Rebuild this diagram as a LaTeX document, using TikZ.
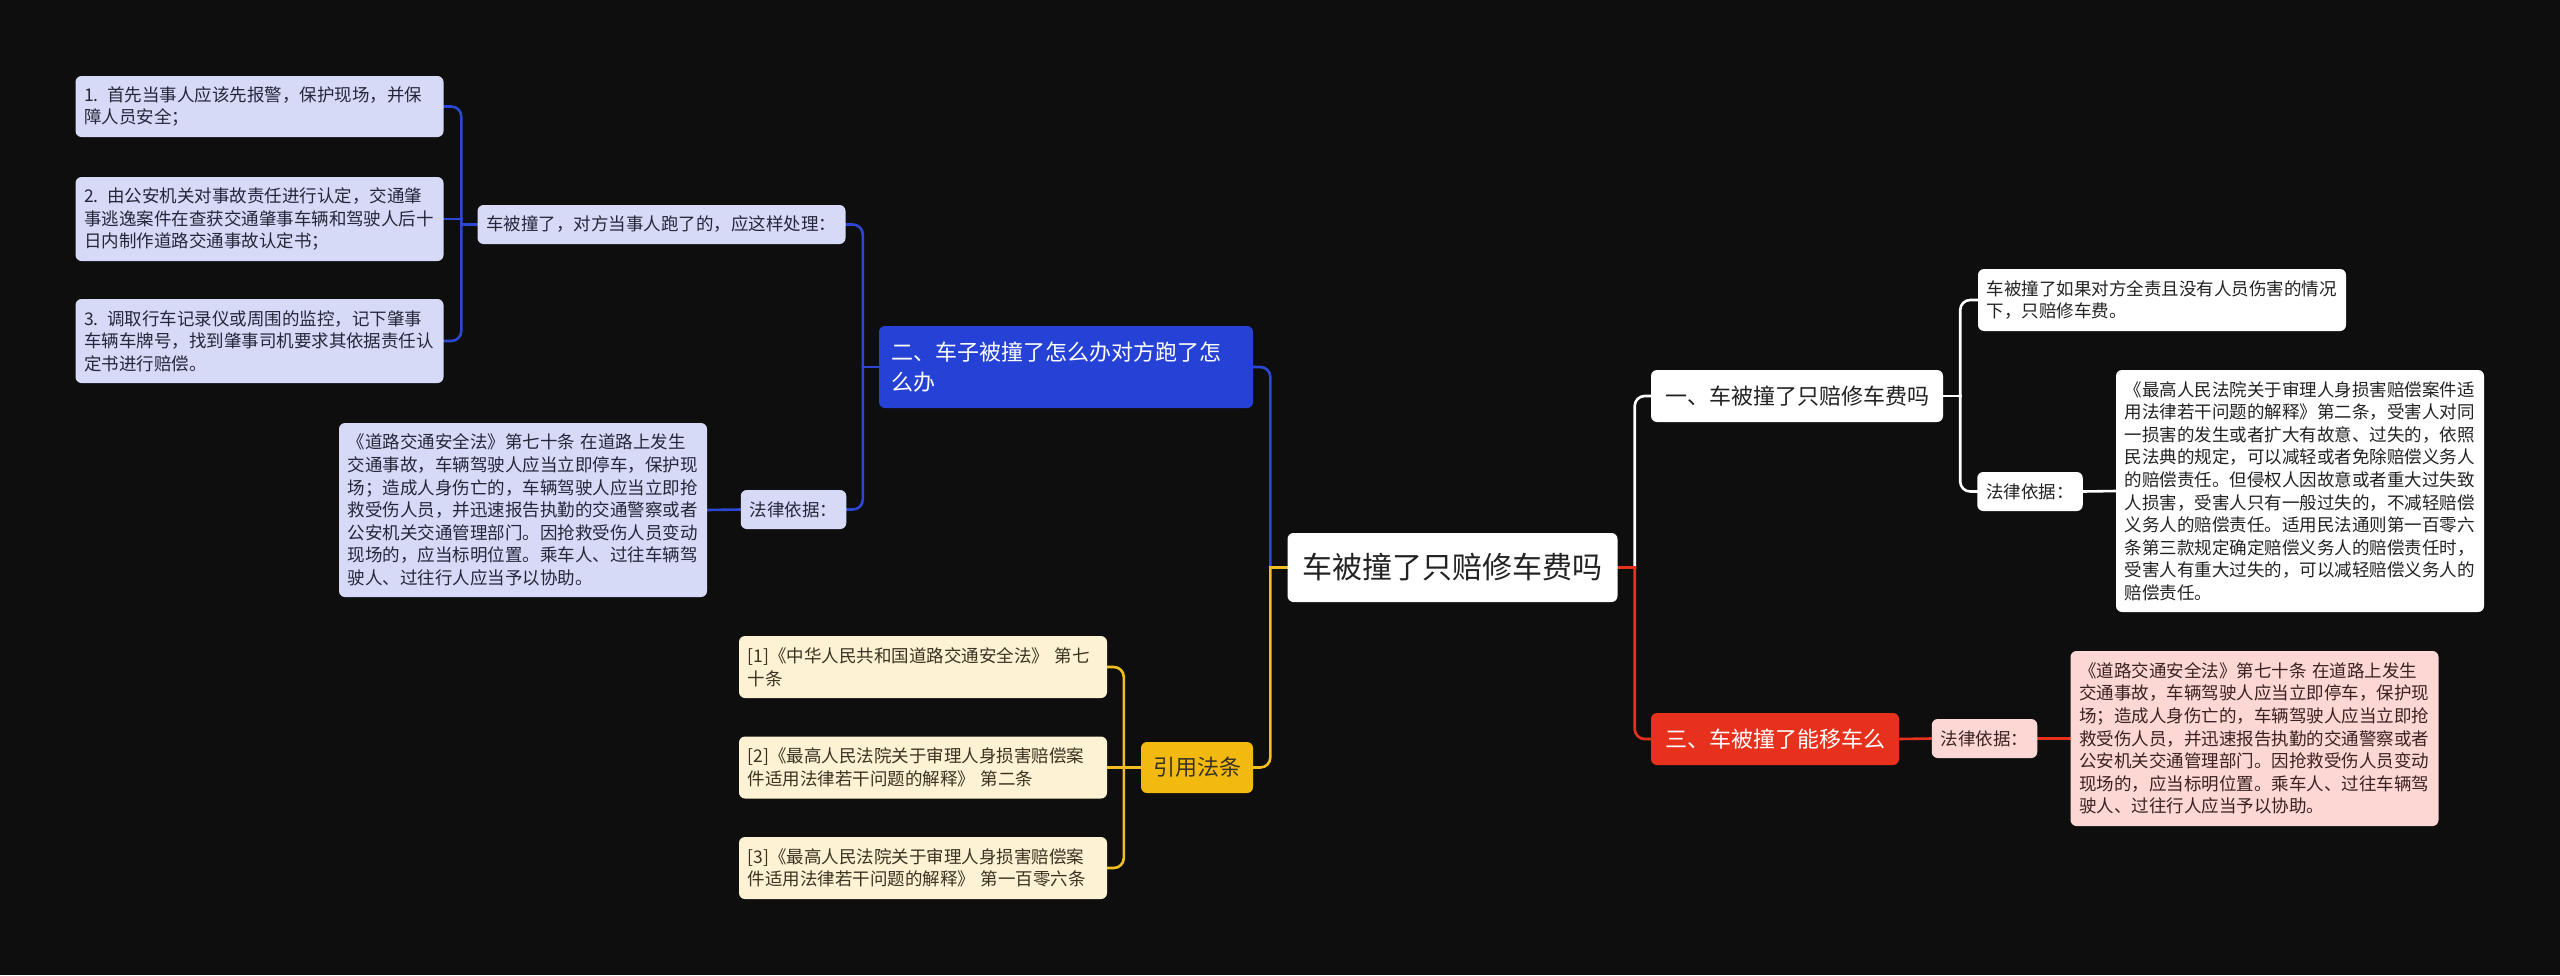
\documentclass[tikz,border=0pt]{standalone}
\usepackage{fontspec}
\setmainfont{Noto Sans CJK SC}
\usetikzlibrary{backgrounds}
\definecolor{bgcol}{HTML}{0E0E0E}
\definecolor{lavfill}{HTML}{D6DAF6}
\definecolor{lavtext}{HTML}{25263A}
\definecolor{bluenode}{HTML}{2642D6}
\definecolor{blueline}{HTML}{2C47D2}
\definecolor{goldnode}{HTML}{F2B90F}
\definecolor{goldline}{HTML}{F2BE22}
\definecolor{creamfill}{HTML}{FDF2D3}
\definecolor{creamtext}{HTML}{3A3322}
\definecolor{rednode}{HTML}{E8311C}
\definecolor{pinkfill}{HTML}{FCD7D4}
\definecolor{pinktext}{HTML}{3A2222}
\definecolor{darktext}{HTML}{222222}
\newcommand\mmleaf{\fontsize{17.5}{22.6}\selectfont}
\newcommand\mmmid{\fontsize{22}{30}\selectfont}
\newcommand\mmroot{\fontsize{30}{36}\selectfont}

\begin{document}
\begin{tikzpicture}[x=1pt, y=-1pt,
    box/.style={rounded corners=6pt, inner ysep=0pt, align=left},
    leaf/.style={box, text width=351pt, inner xsep=8.5pt, font=\mmleaf},
    tag/.style={box, inner xsep=9pt, minimum height=39pt, font=\mmleaf},
    mid/.style={box, inner xsep=14pt, font=\mmmid},
    lavleaf/.style={leaf, fill=lavfill, text=lavtext},
    lavtag/.style={tag, fill=lavfill, text=lavtext},
    creamleaf/.style={leaf, fill=creamfill, text=creamtext},
    whiteleaf/.style={leaf, fill=white, text=darktext},
    whitetag/.style={tag, fill=white, text=darktext},
    pinkleaf/.style={leaf, fill=pinkfill, text=pinktext},
    pinktag/.style={tag, fill=pinkfill, text=pinktext},
    link/.style={line width=2.6pt, rounded corners=10pt, line cap=rect},
    bluelink/.style={link, draw=blueline},
    goldlink/.style={link, draw=goldline},
    whitelink/.style={link, draw=white},
    redlink/.style={link, draw=rednode}]
  \useasboundingbox (0,0) rectangle (2560,975);

  \node[box, fill=white, text=darktext, inner xsep=15pt, minimum height=69pt, font=\mmroot] (root) at (1452.5,567.5) {车被撞了只赔修车费吗};

  \node[box, fill=bluenode, text=white, text width=350pt, inner xsep=12pt, minimum height=82pt, font=\mmmid] (b) at (1066,367) {二、车子被撞了怎么办对方跑了怎\\么办};
  \node[lavleaf, minimum height=39pt] (m1) at (661.5,224.5) {车被撞了，对方当事人跑了的，应这样处理：};
  \node[lavleaf, minimum height=61pt] (l1) at (259.5,106.5) {1. 首先当事人应该先报警，保护现场，并保\\障人员安全；};
  \node[lavleaf, minimum height=84pt] (l2) at (259.5,219) {2. 由公安机关对事故责任进行认定，交通肇\\事逃逸案件在查获交通肇事车辆和驾驶人后十\\日内制作道路交通事故认定书；};
  \node[lavleaf, minimum height=84pt] (l3) at (259.5,341) {3. 调取行车记录仪或周围的监控，记下肇事\\车辆车牌号，找到肇事司机要求其依据责任认\\定书进行赔偿。};
  \node[lavtag] (lb) at (793.5,509.5) {法律依据：};
  \node[lavleaf, minimum height=174pt] (lblaw) at (523,510) {《道路交通安全法》第七十条 在道路上发生\\交通事故，车辆驾驶人应当立即停车，保护现\\场；造成人身伤亡的，车辆驾驶人应当立即抢\\救受伤人员，并迅速报告执勤的交通警察或者\\公安机关交通管理部门。因抢救受伤人员变动\\现场的，应当标明位置。乘车人、过往车辆驾\\驶人、过往行人应当予以协助。};

  \node[mid, fill=goldnode, text=creamtext, inner xsep=12pt, minimum height=51pt] (y) at (1197,767.5) {引用法条};
  \node[creamleaf, minimum height=62pt] (y1) at (923,667) {[1]《中华人民共和国道路交通安全法》 第七\\十条};
  \node[creamleaf, minimum height=62pt] (y2) at (923,767.5) {[2]《最高人民法院关于审理人身损害赔偿案\\件适用法律若干问题的解释》 第二条};
  \node[creamleaf, minimum height=62pt] (y3) at (923,868) {[3]《最高人民法院关于审理人身损害赔偿案\\件适用法律若干问题的解释》 第一百零六条};

  \node[mid, fill=white, text=darktext, minimum height=52pt] (n1) at (1797,396) {一、车被撞了只赔修车费吗};
  \node[whiteleaf, minimum height=62pt] (n1a) at (2162,300) {车被撞了如果对方全责且没有人员伤害的情况\\下，只赔修车费。};
  \node[whitetag] (n1b) at (2030,491.5) {法律依据：};
  \node[whiteleaf, minimum height=242pt] (n1c) at (2300,491) {《最高人民法院关于审理人身损害赔偿案件适\\用法律若干问题的解释》第二条，受害人对同\\一损害的发生或者扩大有故意、过失的，依照\\民法典的规定，可以减轻或者免除赔偿义务人\\的赔偿责任。但侵权人因故意或者重大过失致\\人损害，受害人只有一般过失的，不减轻赔偿\\义务人的赔偿责任。适用民法通则第一百零六\\条第三款规定确定赔偿义务人的赔偿责任时，\\受害人有重大过失的，可以减轻赔偿义务人的\\赔偿责任。};

  \node[mid, fill=rednode, text=white, minimum height=52pt] (n3) at (1775,739) {三、车被撞了能移车么};
  \node[pinktag] (n3a) at (1984.5,738.5) {法律依据：};
  \node[pinkleaf, minimum height=175pt] (n3b) at (2254.5,738.5) {《道路交通安全法》第七十条 在道路上发生\\交通事故，车辆驾驶人应当立即停车，保护现\\场；造成人身伤亡的，车辆驾驶人应当立即抢\\救受伤人员，并迅速报告执勤的交通警察或者\\公安机关交通管理部门。因抢救受伤人员变动\\现场的，应当标明位置。乘车人、过往车辆驾\\驶人、过往行人应当予以协助。};

  \coordinate (jrootl) at ([xshift=-17pt]root.west);
  \coordinate (jrootr) at ([xshift=17pt]root.east);
  \coordinate (jb) at ([xshift=-16pt]b.west);
  \coordinate (jm1) at ([xshift=-16pt]m1.west);
  \coordinate (jy) at ([xshift=-17pt]y.west);
  \coordinate (jn1) at ([xshift=17pt]n1.east);

  \begin{scope}[on background layer]
    \fill[bgcol] (0,0) rectangle (2560,975);
    \draw[bluelink] (b.east) -| (jrootl);
    \draw[goldlink] (y.east) -| (jrootl);
    \draw[goldlink] (jrootl) -- (root.west);
    \draw[bluelink] (m1.east) -| (jb);
    \draw[bluelink] (lb.east) -| (jb);
    \draw[bluelink] (jb) -- (b.west);
    \draw[bluelink] (l1.east) -| (jm1);
    \draw[bluelink] (l3.east) -| (jm1);
    \draw[bluelink] (l2.east) -- (l2.east -| jm1);
    \draw[bluelink] (jm1) -- (m1.west);
    \draw[bluelink] (lb.west) -- (lblaw.east);
    \draw[goldlink] (y1.east) -| (jy);
    \draw[goldlink] (y3.east) -| (jy);
    \draw[goldlink] (y2.east) -- (y.west);
    \draw[whitelink] (n1.west) -| (jrootr);
    \draw[redlink] (n3.west) -| (jrootr);
    \draw[redlink] (jrootr) -- (root.east);
    \draw[whitelink] (n1a.west) -| (jn1);
    \draw[whitelink] (n1b.west) -| (jn1);
    \draw[whitelink] (jn1) -- (n1.east);
    \draw[whitelink] (n1b.east) -- (n1c.west);
    \draw[redlink] (n3.east) -- (n3a.west);
    \draw[redlink] (n3a.east) -- (n3b.west);
  \end{scope}
\end{tikzpicture}
\end{document}
